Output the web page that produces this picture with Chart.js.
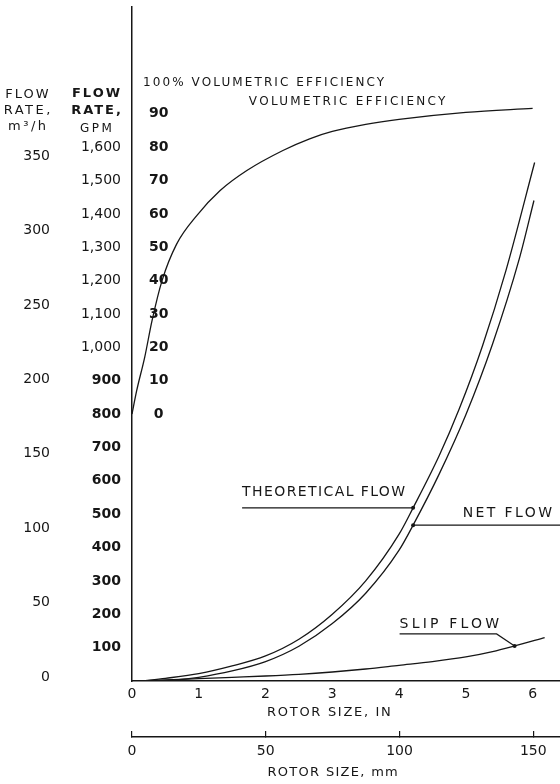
<!DOCTYPE html>
<html>
<head>
<meta charset="utf-8">
<script src="https://cdn.jsdelivr.net/npm/chart.js@4.4.0/dist/chart.umd.min.js"></script>
<style>
  html, body { margin: 0; padding: 0; background: #fff; }
  #wrap { width: 560px; height: 784px; position: relative; }
</style>
</head>
<body>
<div id="wrap"><canvas id="flowChart"></canvas></div>
<script>
// rotor size (in) vs flow rate (GPM)
const theoSize = [0.15, 0.5, 1.0, 1.5, 2.0, 2.5, 3.0, 3.5, 4.0, 4.21, 4.6, 4.9, 5.25, 5.6, 6.03];
const theoGpm  = [0, 8, 22, 45, 75, 125, 200, 300, 440, 519, 675, 815, 1005, 1230, 1554];

const netSize = [0.25, 0.7, 1.0, 1.5, 2.0, 2.5, 3.0, 3.5, 4.0, 4.21, 4.6, 5.0, 5.4, 5.8, 6.02];
const netGpm  = [0, 4, 11, 30, 58, 104, 172, 263, 392, 467, 620, 798, 1010, 1265, 1440];

const slipSize = [0.1, 0.5, 1.0, 1.5, 2.0, 2.5, 3.0, 3.5, 4.0, 4.5, 5.0, 5.4, 5.73, 6.18];
const slipGpm  = [0, 3, 7, 11, 15, 20, 27, 36, 47, 58, 72, 88, 105, 130];

// volumetric efficiency, percent
const effSize = [0, 0.07, 0.19, 0.3, 0.45, 0.67, 0.97, 1.32, 1.72, 2.26, 2.66, 3.0, 3.5, 4.0, 5.0, 6.0];
const effPct  = [0, 7, 17, 28, 40, 51, 59.5, 67, 73, 79, 82.5, 84.7, 86.8, 88.3, 90.4, 91.6];

// where the leader lines touch the curves
const theoMark = 4.21;
const netMark = 4.21;
const slipMark = 5.73;

// tick labels
const gpmTicks = [100, 200, 300, 400, 500, 600, 700, 800, 900, 1000, 1100, 1200, 1300, 1400, 1500, 1600];
const m3hTicks = [0, 50, 100, 150, 200, 250, 300, 350];
const effTicks = [0, 10, 20, 30, 40, 50, 60, 70, 80, 90];
const inchTicks = [0, 1, 2, 3, 4, 5, 6];
const mmTicks = [0, 50, 100, 150];

const INK = '#161616';
const FONT = '"DejaVu Sans", sans-serif';

function pairs(xs, ys) {
    return xs.map((x, i) => ({ x: x, y: ys[i] }));
}

function write(ctx, text, x, y, size, weight, align, spacing) {
    ctx.font = weight + ' ' + size + 'px ' + FONT;
    ctx.letterSpacing = spacing + 'px';
    ctx.textAlign = align;
    let dx = 0;
    if (align === 'center') dx = spacing / 2;
    if (align === 'right') dx = spacing;
    ctx.fillText(text, x + dx, y);
}

// fixed axis widths, and no extra room for the end labels
function sideWidth(w) {
    return s => { s.width = w; s.paddingTop = 0; s.paddingBottom = 0; };
}

// headings, curve names and leader lines
const notes = {
    id: 'notes',
    afterDraw(chart) {
        const ctx = chart.ctx;
        const area = chart.chartArea;
        const sx = chart.scales.x, smm = chart.scales.mm;
        const seff = chart.scales.eff, sgpm = chart.scales.y, sm3h = chart.scales.m3h;
        ctx.save();
        ctx.fillStyle = INK;
        ctx.strokeStyle = INK;
        ctx.lineWidth = 1.2;
        ctx.textBaseline = 'middle';

        // vertical axis headings
        const mx = sm3h.right - 33;
        write(ctx, 'FLOW', mx, area.top + 88, 13, 'normal', 'center', 2);
        write(ctx, 'RATE,', mx, area.top + 104, 13, 'normal', 'center', 2.5);
        write(ctx, 'm³/h', mx, area.top + 120, 13, 'normal', 'center', 2.5);
        const gx = sgpm.right - 36;
        write(ctx, 'FLOW', gx, area.top + 87, 13, 'bold', 'center', 2);
        write(ctx, 'RATE,', gx, area.top + 104, 13, 'bold', 'center', 2);
        write(ctx, 'GPM', gx, area.top + 122, 12, 'normal', 'center', 2.5);

        write(ctx, '100% VOLUMETRIC EFFICIENCY', area.left + 11, seff.getPixelForValue(100) + 2, 12, 'normal', 'left', 2.1);
        write(ctx, 'VOLUMETRIC EFFICIENCY', sx.getPixelForValue(1.75), seff.getPixelForValue(93.5), 12, 'normal', 'left', 2.3);

        // horizontal axis titles
        write(ctx, 'ROTOR SIZE, IN', sx.getPixelForValue(2.95), sx.top + 32, 13, 'normal', 'center', 1.7);
        write(ctx, 'ROTOR SIZE, mm', smm.getPixelForValue(75), smm.top + 36, 13, 'normal', 'center', 1.3);

        // leaders
        const tp = chart.getDatasetMeta(0).data[theoSize.indexOf(theoMark)];
        const np = chart.getDatasetMeta(1).data[netSize.indexOf(netMark)];
        const sp = chart.getDatasetMeta(2).data[slipSize.indexOf(slipMark)];

        ctx.beginPath();
        ctx.moveTo(tp.x, tp.y);
        ctx.lineTo(tp.x - 171, tp.y);
        ctx.moveTo(np.x, np.y);
        ctx.lineTo(area.right, np.y);
        ctx.moveTo(sp.x, sp.y);
        ctx.lineTo(sp.x - 18, sp.y - 12);
        ctx.lineTo(sp.x - 115, sp.y - 12);
        ctx.stroke();
        [tp, np, sp].forEach(p => {
            ctx.beginPath();
            ctx.arc(p.x, p.y, 2, 0, Math.PI * 2);
            ctx.fill();
        });

        write(ctx, 'THEORETICAL FLOW', tp.x - 171, tp.y - 15, 14, 'normal', 'left', 1.4);
        write(ctx, 'NET FLOW', area.right - 8, np.y - 12, 14, 'normal', 'right', 2.4);
        write(ctx, 'SLIP FLOW', sp.x - 115, sp.y - 22, 14, 'normal', 'left', 3.2);
        ctx.restore();
    }
};

const curve = { borderColor: INK, borderWidth: 1.3, pointRadius: 0, fill: false, cubicInterpolationMode: 'monotone' };
const tickFont = { family: FONT, size: 14 };

new Chart(document.getElementById('flowChart'), {
    type: 'line',
    data: {
        datasets: [
            Object.assign({ label: 'Theoretical flow', data: pairs(theoSize, theoGpm), yAxisID: 'y' }, curve),
            Object.assign({ label: 'Net flow', data: pairs(netSize, netGpm), yAxisID: 'y' }, curve),
            Object.assign({ label: 'Slip flow', data: pairs(slipSize, slipGpm), yAxisID: 'y' }, curve),
            Object.assign({ label: 'Volumetric efficiency', data: pairs(effSize, effPct), yAxisID: 'eff' }, curve)
        ]
    },
    options: {
        responsive: true,
        maintainAspectRatio: false,
        animation: false,
        events: [],
        layout: { padding: { top: 7, right: 0, bottom: 0, left: 0 } },
        plugins: { legend: { display: false }, tooltip: { enabled: false } },
        scales: {
            x: {
                type: 'linear', position: 'bottom', min: 0, max: 6.41, weight: 0,
                grid: { display: false, drawTicks: false },
                border: { display: true, color: INK, width: 1.5 },
                ticks: {
                    stepSize: 1, includeBounds: false, padding: 5, color: INK, font: tickFont,
                    callback: v => inchTicks.includes(v) ? String(v) : null
                },
                afterFit: s => { s.height = 56; }
            },
            mm: {
                type: 'linear', position: 'bottom', min: 0, max: 160, weight: 1,
                grid: { display: true, drawOnChartArea: false, drawTicks: true, tickLength: -6, color: INK, lineWidth: 1.2 },
                border: { display: true, color: INK, width: 1.5 },
                ticks: {
                    stepSize: 50, includeBounds: false, padding: 12, color: INK, font: tickFont,
                    callback: v => mmTicks.includes(v) ? String(v) : null
                },
                afterFit: s => { s.height = 47; }
            },
            eff: {
                type: 'linear', position: 'left', min: -80, max: 122, weight: 0,
                grid: { display: false, drawTicks: false },
                border: { display: false },
                ticks: {
                    stepSize: 10, includeBounds: false, mirror: true, crossAlign: 'center', padding: 17,
                    color: INK, font: { family: FONT, size: 14, weight: 'bold' },
                    callback: v => effTicks.includes(v) ? String(v) : null
                },
                afterFit: sideWidth(0)
            },
            y: {
                type: 'linear', position: 'left', min: 0, max: 2020, weight: 1,
                grid: { display: false, drawTicks: false },
                border: { display: true, color: INK, width: 1.5 },
                ticks: {
                    stepSize: 100, includeBounds: false, padding: 11, color: INK,
                    font: c => ({ family: FONT, size: 14, weight: c.tick && c.tick.value < 1000 ? 'bold' : 'normal' }),
                    callback: v => gpmTicks.includes(v) ? v.toLocaleString('en-US') : null
                },
                afterFit: sideWidth(72)
            },
            m3h: {
                type: 'linear', position: 'left', min: -2.7, max: 450.3, weight: 2,
                grid: { display: false, drawTicks: false },
                border: { display: false },
                ticks: {
                    stepSize: 50, includeBounds: false, padding: 10, color: INK, font: tickFont,
                    callback: v => m3hTicks.includes(v) ? String(v) : null
                },
                afterFit: sideWidth(60)
            }
        }
    },
    plugins: [notes]
});
</script>
</body>
</html>
